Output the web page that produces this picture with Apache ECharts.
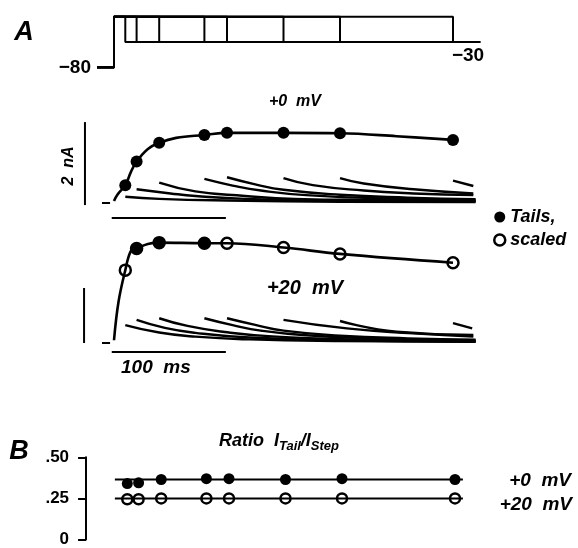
<!DOCTYPE html>
<html>
<head>
<meta charset="utf-8">
<script src="https://cdn.jsdelivr.net/npm/echarts@6/dist/echarts.min.js"></script>
<style>
html,body{margin:0;padding:0;background:#fff;}
#chart{width:578px;height:548px;}
</style>
</head>
<body>
<div id="chart"></div>
<script>
// pulse protocol: durations in ms, potentials in mV
var durations = [10, 20, 40, 80, 100, 150, 200, 300];
var vHold = -80, vTest = 20, vTail = -30;

// +0 mV panel (nA): step current, tail amplitudes (dots), tail decays
var step0 = [[0,0.05],[3,0.2],[10,0.43],[15,0.75],[20,1.0],[30,1.3],[40,1.45],[55,1.57],[80,1.64],[100,1.69],[150,1.69],[200,1.68],[250,1.61],[300,1.52]];
var tailDots0 = [0.43, 1.0, 1.45, 1.64, 1.69, 1.69, 1.68, 1.52];
var tails0 = [
  [[10,0.15],[40,0.1],[100,0.06],[200,0.03],[320,0.02]],
  [[20,0.33],[50,0.23],[72,0.17],[116,0.1],[200,0.06],[320,0.04]],
  [[40,0.49],[72,0.28],[116,0.17],[160,0.1],[240,0.07],[320,0.05]],
  [[80,0.58],[105,0.42],[130,0.3],[170,0.19],[250,0.1],[320,0.07]],
  [[100,0.62],[125,0.45],[150,0.32],[200,0.2],[260,0.13],[320,0.09]],
  [[150,0.6],[176,0.43],[221,0.3],[265,0.23],[318,0.19]],
  [[200,0.6],[221,0.47],[265,0.33],[318,0.23]],
  [[300,0.54],[318,0.41]]
];

// +20 mV panel (nA)
var step20 = [[0,0.1],[4,1.5],[10,2.65],[15,3.35],[20,3.44],[30,3.6],[40,3.65],[80,3.63],[100,3.63],[150,3.47],[200,3.24],[300,2.92]];
var scaled20 = [2.65, 3.44, 3.65, 3.63, 3.63, 3.47, 3.24, 2.92];
var filled20 = [[20,3.44],[40,3.65],[80,3.63]];
var tails20 = [
  [[10,0.65],[40,0.38],[72,0.23],[120,0.13],[200,0.07],[320,0.04]],
  [[20,0.84],[45,0.55],[72,0.37],[120,0.2],[200,0.1],[320,0.05]],
  [[40,0.9],[65,0.62],[98,0.4],[140,0.24],[220,0.12],[320,0.06]],
  [[80,0.9],[105,0.65],[130,0.45],[170,0.28],[240,0.15],[320,0.09]],
  [[100,0.9],[125,0.66],[150,0.45],[200,0.27],[260,0.17],[320,0.12]],
  [[150,0.84],[206,0.53],[265,0.35],[318,0.23]],
  [[200,0.8],[250,0.41],[318,0.29]],
  [[300,0.72],[317,0.53]]
];

// panel B: ratio I_tail / I_step
var ratio0 = [0.34, 0.345, 0.365, 0.37, 0.37, 0.365, 0.37, 0.365];
var ratio20 = [0.245, 0.245, 0.25, 0.25, 0.25, 0.25, 0.25, 0.25];
var ratioMean0 = 0.365, ratioMean20 = 0.25;
var ratioTicks = ['0', '.25', '.50'];

var barNA = 2, barMs = 100;

var PX = 1.13; // px per ms
var FONT = 'Liberation Sans';
var black = '#000';
var filledStyle = {color:black, opacity:1};
var openStyle = {color:'#fff', borderColor:black, borderWidth:2.5, opacity:1};

function lineS(xi, data, w, smooth) {
  return {type:'line', xAxisIndex:xi, yAxisIndex:xi, data:data, symbol:'none', smooth:smooth||false,
    clip:false, silent:true, lineStyle:{color:black, width:w||2}};
}
function dots(name, xi, data, size, style) {
  return {type:'scatter', name:name, xAxisIndex:xi, yAxisIndex:xi, symbol:'circle', symbolSize:size,
    silent:true, itemStyle:style, data:data};
}

var protocol = durations.map(function(d){
  return [[-15,vHold],[0,vHold],[0,vTest],[d,vTest],[d,vTail],[324,vTail]];
});

var series = [];
protocol.forEach(function(p){ series.push(lineS(0, p, 2)); });

tails0.forEach(function(t){ series.push(lineS(1, t, 2.4, 0.5)); });
series.push(lineS(1, step0, 2.6, 0.4));
series.push(dots('Tails,', 1, durations.map(function(d,i){return [d,tailDots0[i]];}), 12, filledStyle));
series.push(lineS(1, [[-25.7,-0.05],[-25.7,barNA-0.05]], 2));
series.push(lineS(1, [[-2,-0.36],[barMs-1,-0.36]], 2));
series.push(lineS(1, [[-10.6,0],[-3.5,0]], 2));

tails20.forEach(function(t){ series.push(lineS(2, t, 2.4, 0.5)); });
series.push(lineS(2, step20, 2.6, 0.4));
series.push(dots('scaled', 2, durations.map(function(d,i){return [d,scaled20[i]];}), 11, openStyle));
series.push(dots('filled20', 2, filled20, 12, filledStyle));
series.push(lineS(2, [[-26.5,0],[-26.5,barNA]], 2));
series.push(lineS(2, [[-2,-0.33],[barMs-1,-0.33]], 2));
series.push(lineS(2, [[-10.6,0],[-3.5,0]], 2));

series.push(lineS(3, [[-1,ratioMean0],[307,ratioMean0]], 2));
series.push(lineS(3, [[-1,ratioMean20],[307,ratioMean20]], 2));
series.push(dots('r20', 3, durations.map(function(d,i){return [d,ratio20[i]];}), 10, openStyle));
series.push(dots('r0', 3, durations.map(function(d,i){return [d,ratio0[i]];}), 11, filledStyle));

var gridA = {left:114 - 32*PX, width:362*PX};
var grids = [
  {left:gridA.left, width:gridA.width, top:11.6, height:60.7},
  {left:gridA.left, width:gridA.width, top:203 - 2.6*41.5, height:3.2*41.5},
  {left:gridA.left, width:gridA.width, top:343 - 4.2*27.5, height:5.2*27.5},
  {left:116 - 26.5*PX, width:356.5*PX, top:457.3, height:85}
];

function hiddenX(min){ return {type:'value', min:min, max:330, show:false}; }
var xAxes = [hiddenX(-32), hiddenX(-32), hiddenX(-32), hiddenX(-26.5)];
xAxes.forEach(function(a,i){ a.gridIndex = i; });

var yAxes = [
  {gridIndex:0, type:'value', min:-90, max:30, show:false},
  {gridIndex:1, type:'value', min:-0.6, max:2.6, show:false},
  {gridIndex:2, type:'value', min:-1, max:4.2, show:false},
  {gridIndex:3, type:'value', min:0, max:0.5, interval:0.25, splitLine:{show:false},
    axisLine:{show:true, onZero:false, lineStyle:{color:black, width:2}},
    axisTick:{show:true, length:8, lineStyle:{color:black, width:2}},
    axisLabel:{margin:17, color:black, fontFamily:FONT, fontWeight:'bold', fontSize:17,
      formatter:function(v){ return ratioTicks[Math.round(v/0.25)]; }}}
];

function txt(x, y, text, size, opts) {
  opts = opts || {};
  return {type:'text', x:x, y:y, rotation:opts.rot||0, silent:true,
    style:{text:text, fill:black, fontFamily:FONT, fontWeight:'bold',
      fontStyle:opts.italic===false?'normal':'italic', fontSize:size,
      textAlign:opts.align||'center', textVerticalAlign:'middle'}};
}

var graphics = [
  txt(24, 33, 'A', 27),
  txt(91, 68, '\u221280', 19, {italic:false, align:'right'}),
  txt(468, 56, '\u221230', 19, {italic:false}),
  txt(295, 102, '+0  mV', 16),
  txt(69, 166, '2  nA', 16, {rot:Math.PI/2}),
  txt(305, 288, '+20  mV', 20),
  txt(121, 368, '100  ms', 19, {align:'left'}),
  txt(19, 452, 'B', 27),
  txt(571, 481, '+0  mV', 19, {align:'right'}),
  txt(572, 505, '+20  mV', 19, {align:'right'}),
  {type:'text', x:279, y:441, silent:true,
    style:{text:'{a|Ratio  I}{s|Tail}{a|/I}{s|Step}', fill:black, textAlign:'center', textVerticalAlign:'middle',
      rich:{
        a:{fontFamily:FONT, fontWeight:'bold', fontStyle:'italic', fontSize:18, lineHeight:24},
        s:{fontFamily:FONT, fontWeight:'bold', fontStyle:'italic', fontSize:13, lineHeight:13, verticalAlign:'bottom'}
      }}}
];

var chart = echarts.init(document.getElementById('chart'));
chart.setOption({
  animation:false,
  backgroundColor:'#fff',
  grid:grids,
  xAxis:xAxes,
  yAxis:yAxes,
  legend:{orient:'vertical', left:488, top:203, itemGap:5, itemWidth:11, itemHeight:11,
    textStyle:{color:black, fontFamily:FONT, fontWeight:'bold', fontStyle:'italic', fontSize:18},
    data:[
      {name:'Tails,', icon:'circle', itemStyle:filledStyle},
      {name:'scaled', icon:'circle', itemStyle:{color:'#fff', borderColor:black, borderWidth:2.5}}
    ], selectedMode:false},
  graphic:graphics,
  series:series
});
</script>
</body>
</html>
